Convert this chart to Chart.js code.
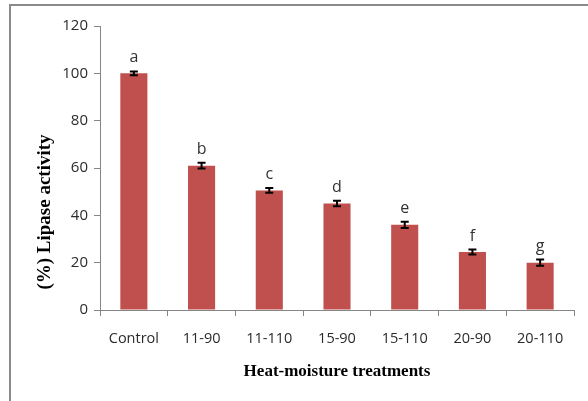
<!DOCTYPE html>
<html>
<head>
<meta charset="utf-8">
<script src="https://cdn.jsdelivr.net/npm/chart.js@4"></script>
<style>
html,body{margin:0;padding:0;background:#fff;}
#wrap{width:588px;height:401px;position:relative;}
</style>
</head>
<body>
<div id="wrap"><canvas id="c" width="588" height="401"></canvas></div>
<script>
const categories = ["Control", "11-90", "11-110", "15-90", "15-110", "20-90", "20-110"];
const lipaseActivity = [100, 61, 50.5, 45, 36, 24.5, 20];
const errorValues = [0.8, 1.2, 1.0, 1.2, 1.3, 1.1, 1.3];
const significanceLetters = ["a", "b", "c", "d", "e", "f", "g"];
const yTicks = [0, 20, 40, 60, 80, 100, 120];
const yTitle = "(%) Lipase activity";

const extras = {
  id: 'extras',
  beforeDraw(chart) {
    const ctx = chart.ctx;
    ctx.save();
    ctx.fillStyle = '#fff';
    ctx.fillRect(0, 0, chart.width, chart.height);
    ctx.strokeStyle = '#8a8a8a';
    ctx.lineWidth = 2;
    ctx.beginPath();
    ctx.moveTo(10, chart.height);
    ctx.lineTo(10, 5);
    ctx.lineTo(chart.width, 5);
    ctx.stroke();
    ctx.restore();
  },
  afterDatasetsDraw(chart) {
    const ctx = chart.ctx;
    const meta = chart.getDatasetMeta(0);
    const y = chart.scales.y;
    ctx.save();
    meta.data.forEach((bar, i) => {
      const v = lipaseActivity[i], e = errorValues[i];
      const x = bar.x;
      const yt = y.getPixelForValue(v + e), yb = y.getPixelForValue(v - e);
      ctx.strokeStyle = '#000';
      ctx.lineWidth = 2;
      ctx.beginPath();
      ctx.moveTo(x, yt); ctx.lineTo(x, yb);
      ctx.moveTo(x - 4, yt); ctx.lineTo(x + 4, yt);
      ctx.moveTo(x - 4, yb); ctx.lineTo(x + 4, yb);
      ctx.stroke();
      ctx.fillStyle = '#333';
      ctx.font = '16px "Open Sans", sans-serif';
      ctx.textAlign = 'center';
      ctx.textBaseline = 'bottom';
      ctx.fillText(significanceLetters[i], x, y.getPixelForValue(v) - 8);
    });
    // y-axis title
    ctx.translate(45, 212);
    ctx.rotate(-Math.PI / 2);
    ctx.fillStyle = '#000';
    ctx.font = 'bold 19px "Liberation Serif", serif';
    ctx.textAlign = 'center';
    ctx.textBaseline = 'middle';
    ctx.fillText(yTitle, 0, 0);
    ctx.restore();
  }
};

new Chart(document.getElementById('c'), {
  type: 'bar',
  data: {
    labels: categories,
    datasets: [{
      data: lipaseActivity,
      backgroundColor: '#c0504d',
      barPercentage: 0.8,
      categoryPercentage: 0.5
    }]
  },
  options: {
    responsive: false,
    animation: false,
    layout: { padding: { left: 30, right: 14, top: 26, bottom: 0 } },
    plugins: { legend: { display: false }, tooltip: { enabled: false } },
    scales: {
      x: {
        offset: true,
        grid: { offset: true, drawOnChartArea: false, tickLength: 6, color: '#868686' },
        border: { color: '#868686', width: 1 },
        ticks: { color: '#2b2b2b', font: { family: '"Open Sans", sans-serif', size: 14.5 }, padding: 14, maxRotation: 0 },
        title: { display: true, text: 'Heat-moisture treatments', color: '#000',
          font: { family: '"Liberation Serif", serif', size: 17, weight: 'bold' }, padding: { top: 4, bottom: 19 } },
        afterFit(s) { s.height = 91; }
      },
      y: {
        min: 0, max: 120,
        afterBuildTicks(s) { s.ticks = yTicks.map(v => ({ value: v })); },
        grid: { drawOnChartArea: false, tickLength: 6, color: '#868686' },
        border: { color: '#868686', width: 1 },
        ticks: { color: '#2b2b2b', font: { family: '"Open Sans", sans-serif', size: 15 }, padding: 6 },
        title: { display: false },
        afterFit(s) { s.width = 70; }
      }
    }
  },
  plugins: [extras]
});
</script>
</body>
</html>
